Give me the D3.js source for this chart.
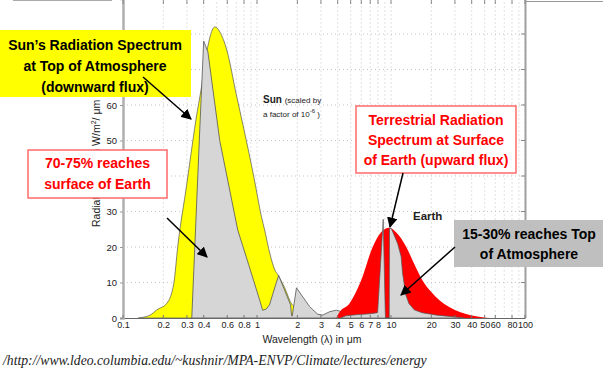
<!DOCTYPE html>
<html>
<head>
<meta charset="utf-8">
<script src="https://cdn.jsdelivr.net/npm/d3@7"></script>
<style>
  body { margin: 0; background: #fff; }
  svg { display: block; font-family: "Liberation Sans", Arial, sans-serif; }
</style>
</head>
<body>
<svg id="chart" width="603" height="370"></svg>
<script>
// wavelength in micrometres, radiance in W/m2/um (sun scaled by 1e-6)
const sunTopWl   = [0.13, 0.159, 0.179, 0.213, 0.24, 0.256, 0.30, 0.32, 0.35, 0.385, 0.42, 0.485, 0.53, 0.595, 0.7, 0.795, 0.95, 1.08, 1.14, 1.25, 1.36, 1.43, 1.61, 1.81, 2.0, 2.5, 3, 4, 5];
const sunTopVal  = [0, 0.8, 2.3, 4.2, 10, 20, 38, 45.6, 55.8, 65, 74.6, 82, 80.5, 75.5, 63, 53.5, 39.5, 28.5, 24.8, 18, 13.5, 12.2, 8.5, 4, 2.8, 1.5, 0.8, 0.3, 0];

const sunSurfWl  = [0.326, 0.374, 0.40, 0.43, 0.527, 0.718, 0.867, 1.048, 1.10, 1.17, 1.24, 1.36, 1.45, 1.78, 1.81, 1.83, 1.97, 2.47, 2.83, 3.08, 3.5, 3.9, 4.27, 4.6, 5];
const sunSurfVal = [0, 53, 78, 75, 50, 24.8, 15, 5, 2.2, 2.5, 3.7, 8.7, 12, 3.7, 0.8, 0.5, 8.5, 3.2, 1.1, 0.8, 1.8, 2.2, 1.8, 0.5, 0];

const earthSurfWl  = [3.9, 4.1, 4.9, 6.0, 7.3, 8.5, 9.7, 11, 13, 15, 17.1, 20, 23, 27.2, 33, 40, 51, 60];
const earthSurfVal = [0, 1.5, 4.1, 10.7, 20, 24.3, 25.4, 24, 20, 15, 10.7, 7.3, 5, 3.1, 1.6, 0.7, 0.1, 0];

const earthTopWl  = [4.2, 4.6, 5.5, 7, 7.95, 8.75, 9.05, 9.1, 9.7, 9.75, 10.05, 11.2, 11.9, 12.2, 12.9, 13.6, 14.9, 17, 22, 30, 35];
const earthTopVal = [0, 0.6, 0.9, 1.2, 1.5, 27.8, 2.2, 0, 0, 25.2, 25.2, 21, 17.3, 12.6, 6.5, 4.1, 2.3, 1.5, 0.8, 0.3, 0];

const xTicks = [0.1, 0.2, 0.3, 0.4, 0.6, 0.8, 1, 2, 3, 4, 5, 6, 7, 8, 10, 20, 30, 40, 50, 60, 80, 100];
const yGrid = [10, 20, 30, 40, 50, 60, 70, 80];
// labels 40, 70, 80 sit under the callout boxes in the original
const yTickLabels = [0, 10, 20, 30, 50, 60];

const svg = d3.select("#chart");
const x = d3.scaleLog().domain([0.1, 100]).range([123, 525]);
const y = d3.scaleLinear().domain([0, 90]).range([318, -1.5]);

const zip = (a, b) => a.map((w, i) => [w, b[i]]);

// grid
const gridX = [];
[0.1, 1, 10].forEach(d => d3.range(1, 10).forEach(m => gridX.push(d * m)));
gridX.push(100);

const grid = svg.append("g").attr("stroke", "#c4c4c4").attr("stroke-dasharray", "1,3");
grid.selectAll("line.v").data(gridX).join("line")
    .attr("x1", d => x(d)).attr("x2", d => x(d))
    .attr("y1", y(90)).attr("y2", y(0));
grid.selectAll("line.h").data(yGrid).join("line")
    .attr("x1", x(0.1)).attr("x2", x(100))
    .attr("y1", d => y(d)).attr("y2", d => y(d));

// curves
svg.append("clipPath").attr("id", "plot")
  .append("rect").attr("x", x(0.1)).attr("y", -5).attr("width", x(100) - x(0.1)).attr("height", y(0) + 5);

const smooth = d3.area().x(d => x(d[0])).y0(y(0)).y1(d => y(d[1])).curve(d3.curveMonotoneX);
const jagged = d3.area().x(d => x(d[0])).y0(y(0)).y1(d => y(d[1]));

const curves = svg.append("g").attr("clip-path", "url(#plot)");
curves.append("path").attr("d", smooth(zip(sunTopWl, sunTopVal)))
    .attr("fill", "#ffff00").attr("stroke", "#555").attr("stroke-width", 0.7);
curves.append("path").attr("d", jagged(zip(sunSurfWl, sunSurfVal)))
    .attr("fill", "#d6d6d6").attr("stroke", "#555").attr("stroke-width", 0.8);
curves.append("path").attr("d", smooth(zip(earthSurfWl, earthSurfVal)))
    .attr("fill", "#ff0000");
curves.append("path").attr("d", jagged(zip(earthTopWl, earthTopVal)))
    .attr("fill", "#d6d6d6").attr("stroke", "#555").attr("stroke-width", 0.7);

// axes
const xAxis = svg.append("g").attr("transform", `translate(0,${y(0)})`)
    .call(d3.axisBottom(x).tickValues(xTicks).tickFormat(d3.format("~g")).tickSize(0).tickPadding(4));
xAxis.select(".domain").attr("stroke", "#666");
xAxis.selectAll("text").attr("font-size", 9).attr("fill", "#222");

const yAxis = svg.append("g").attr("transform", `translate(${x(0.1)},0)`)
    .call(d3.axisLeft(y).tickValues(yTickLabels).tickSize(3).tickPadding(3));
yAxis.select(".domain").attr("stroke", "#b0b0b0").attr("stroke-width", 2.5);
yAxis.selectAll(".tick line").attr("stroke", "#999");
yAxis.selectAll("text").attr("font-size", 9.5).attr("fill", "#222");

// right border, inner ticks and frame line
svg.append("line").attr("x1", x(100) + 0.5).attr("x2", x(100) + 0.5).attr("y1", 0).attr("y2", y(0))
    .attr("stroke", "#a0a0a0").attr("stroke-width", 2);
svg.selectAll("line.rt").data(yGrid).join("line")
    .attr("x1", x(100) - 4).attr("x2", x(100)).attr("y1", d => y(d)).attr("y2", d => y(d))
    .attr("stroke", "#888");
svg.selectAll("line.tt").data(xTicks).join("line")
    .attr("x1", d => x(d)).attr("x2", d => x(d)).attr("y1", 0).attr("y2", 4)
    .attr("stroke", "#888");
svg.selectAll("line.bt").data(xTicks).join("line")
    .attr("x1", d => x(d)).attr("x2", d => x(d)).attr("y1", y(0) - 3).attr("y2", y(0))
    .attr("stroke", "#777");
svg.append("line").attr("x1", 13).attr("x2", 112).attr("y1", 0.5).attr("y2", 0.5).attr("stroke", "#aaa");
svg.append("line").attr("x1", 526).attr("x2", 603).attr("y1", 1.5).attr("y2", 1.5).attr("stroke", "#999");

// axis titles
svg.append("text").attr("x", 312).attr("y", 343).attr("text-anchor", "middle")
    .attr("font-size", 10.5).attr("fill", "#222").text("Wavelength (λ) in μm");
const yt = svg.append("text").attr("transform", "translate(100,227) rotate(-90)")
    .attr("font-size", 10.5).attr("fill", "#222");
yt.append("tspan").text("Radiation Flux in W/m");
yt.append("tspan").attr("font-size", 7).attr("dy", -4).text("2");
yt.append("tspan").attr("dy", 4).text("/ μm");

// curve labels
const sunLab = svg.append("g").attr("fill", "#222");
const l1 = sunLab.append("text").attr("x", 263).attr("y", 103);
l1.append("tspan").attr("font-weight", "bold").attr("font-size", 10).text("Sun ");
l1.append("tspan").attr("font-size", 8).text("(scaled by");
const l2 = sunLab.append("text").attr("x", 263).attr("y", 117).attr("font-size", 8);
l2.append("tspan").text("a factor of 10");
l2.append("tspan").attr("font-size", 6).attr("dy", -4).text("-6");
l2.append("tspan").attr("dy", 4).text(" )");

svg.append("text").attr("x", 413).attr("y", 220).attr("font-size", 11.5).attr("font-weight", "bold")
    .attr("fill", "#222").text("Earth");

// callouts
const defs = svg.append("defs");
defs.append("marker").attr("id", "head").attr("viewBox", "0 0 10 10").attr("refX", 9).attr("refY", 5)
    .attr("markerWidth", 7).attr("markerHeight", 7).attr("orient", "auto")
  .append("path").attr("d", "M0,0L10,5L0,10z").attr("fill", "#000");

function callout(box, lines, fill, stroke, color, cx, y0, dy) {
  const g = svg.append("g");
  g.append("rect").attr("x", box[0]).attr("y", box[1]).attr("width", box[2]).attr("height", box[3])
      .attr("fill", fill).attr("stroke", stroke).attr("stroke-width", stroke === "none" ? 0 : 1.5);
  lines.forEach((t, i) => g.append("text").attr("x", cx).attr("y", y0 + i * dy)
      .attr("text-anchor", "middle").attr("font-size", 14).attr("font-weight", "bold")
      .attr("fill", color).text(t));
}

function arrow(a, b) {
  svg.append("line").attr("x1", a[0]).attr("y1", a[1]).attr("x2", b[0]).attr("y2", b[1])
      .attr("stroke", "#000").attr("stroke-width", 1.5).attr("marker-end", "url(#head)");
}

callout([0, 30, 191, 67], ["Sun’s Radiation Spectrum", "at Top of Atmosphere", "(downward flux)"],
    "#ffff00", "none", "#000", 95, 49.5, 21);
arrow([143, 77], [191, 119]);

callout([28, 150, 139, 48], ["70-75% reaches", "surface of Earth"],
    "#fff", "#ff6a6a", "#ff0000", 97.5, 168, 21);
arrow([167, 218], [207, 257]);

callout([356, 106, 160, 67], ["Terrestrial Radiation", "Spectrum at Surface", "of Earth (upward flux)"],
    "#fff", "#ff6a6a", "#ff0000", 436, 125, 20);
arrow([403, 173], [390, 227]);

callout([454, 220, 150, 47], ["15-30% reaches Top", "of Atmosphere"],
    "#bfbfbf", "none", "#000", 529, 239, 20);
arrow([455, 247], [401, 295]);

// source
svg.append("text").attr("x", 3).attr("y", 365)
    .attr("font-family", "'Liberation Serif', 'Times New Roman', serif").attr("font-style", "italic")
    .attr("font-size", 13.7).attr("fill", "#222")
    .text("/http://www.ldeo.columbia.edu/~kushnir/MPA-ENVP/Climate/lectures/energy");
</script>
</body>
</html>
